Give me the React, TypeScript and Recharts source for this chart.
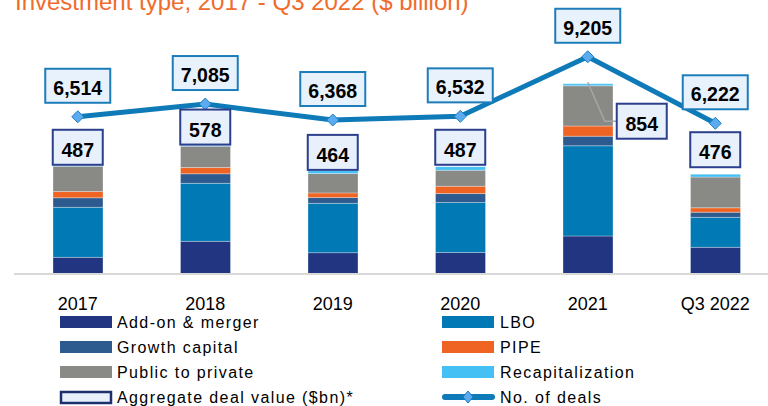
import React from 'react';
import { ComposedChart, Bar, Line, XAxis, YAxis, Legend } from 'recharts';

const categories = ['2017', '2018', '2019', '2020', '2021', 'Q3 2022'];
const addOnMerger = [75, 147, 96, 97, 171, 120];
const lbo = [225, 261, 222, 225, 406, 135];
const growthCapital = [43, 43, 26, 40, 43, 23];
const pipe = [28, 28, 21, 33, 46, 20];
const publicToPrivate = [114, 96, 87, 72, 181, 138];
const recapitalization = [2, 3, 13, 16, 9, 13];
const aggregateDealValue = [487, 578, 464, 487, 854, 476];
const numberOfDeals = [6514, 7085, 6368, 6532, 9205, 6222];

const titleText = 'Investment type, 2017 - Q3 2022 ($ billion)';
const legendLabels = [
  'Add-on & merger',
  'LBO',
  'Growth capital',
  'PIPE',
  'Public to private',
  'Recapitalization',
  'Aggregate deal value ($bn)*',
  'No. of deals',
];

const COLORS = {
  addOn: '#213581',
  lbo: '#0079b4',
  growth: '#2d5b8f',
  pipe: '#f06423',
  p2p: '#898a86',
  recap: '#45c0f5',
  line: '#0e7ab8',
  diamond: '#5aabf0',
  dealBoxBorder: '#1c7db9',
  dealBoxFill: '#e8f2fd',
  barBoxBorder: '#2b3f8d',
  barBoxFill: '#e8f0fc',
};

const FONT = '"Liberation Sans", Arial, sans-serif';

const data = categories.map((name, i) => ({
  name,
  addOn: addOnMerger[i],
  lbo: lbo[i],
  growth: growthCapital[i],
  pipe: pipe[i],
  p2p: publicToPrivate[i],
  recap: recapitalization[i],
  total: aggregateDealValue[i],
  deals: numberOfDeals[i],
}));

const fmt = (v: number) => Number(v).toLocaleString('en-US');

const DealsLabel = (props: any) => {
  const { x, y, value } = props;
  if (x == null || y == null) return null;
  const w = 65;
  const h = 34;
  const bottom = y - 14;
  return (
    <g>
      <rect x={x - w / 2} y={bottom - h} width={w} height={h} fill={COLORS.dealBoxFill} stroke={COLORS.dealBoxBorder} strokeWidth={2} />
      <text x={x} y={bottom - 8} textAnchor="middle" fontFamily={FONT} fontWeight="bold" fontSize={19.5} fill="#000">
        {fmt(value)}
      </text>
    </g>
  );
};

const TotalLabel = (props: any) => {
  const { x, y, value, index } = props;
  if (x == null || y == null) return null;
  const w = 50;
  const h = 35;
  if (index === 4) {
    const bx = x + 29;
    const by = y + 37;
    return (
      <g>
        <polyline points={`${x},${y - 2} ${x + 17},${by} ${bx},${by}`} fill="none" stroke="#a6a6a6" strokeWidth={1.5} />
        <rect x={bx} y={by - h / 2} width={w} height={h} fill={COLORS.barBoxFill} stroke={COLORS.barBoxBorder} strokeWidth={2} />
        <text x={bx + w / 2} y={by + h / 2 - 8} textAnchor="middle" fontFamily={FONT} fontWeight="bold" fontSize={19.5} fill="#000">
          {fmt(value)}
        </text>
      </g>
    );
  }
  const bottom = y - 1;
  return (
    <g>
      <rect x={x - w / 2} y={bottom - h} width={w} height={h} fill={COLORS.barBoxFill} stroke={COLORS.barBoxBorder} strokeWidth={2} />
      <text x={x} y={bottom - 8} textAnchor="middle" fontFamily={FONT} fontWeight="bold" fontSize={19.5} fill="#000">
        {fmt(value)}
      </text>
    </g>
  );
};

const Diamond = (props: any) => {
  const { cx, cy, index } = props;
  if (cx == null || cy == null) return <g key={`dm${index}`} />;
  const r = 6;
  return (
    <polygon
      key={`dm${index}`}
      points={`${cx},${cy - r} ${cx + r},${cy} ${cx},${cy + r} ${cx - r},${cy}`}
      fill={COLORS.diamond}
      stroke="#1f7fc0"
      strokeWidth={1}
    />
  );
};

const Tick = (props: any) => {
  const { x, y, payload } = props;
  return (
    <text x={x} y={y + 36} textAnchor="middle" fontFamily={FONT} fontSize={18} fill="#000">
      {payload.value}
    </text>
  );
};

const LegendContent = () => {
  const colX = [60, 442];
  const textX = [117, 500];
  const rowY = [322, 347, 372, 397];
  const swatchColors = [COLORS.addOn, COLORS.lbo, COLORS.growth, COLORS.pipe, COLORS.p2p, COLORS.recap];
  const top = 300;
  return (
    <svg width={768} height={106} style={{ display: 'block' }}>
      {legendLabels.map((label, i) => {
        const col = i % 2;
        const row = Math.floor(i / 2);
        const cy = rowY[row] - top;
        let swatch: any;
        if (i < 6) {
          swatch = <rect x={colX[col]} y={cy - 6} width={52} height={12} fill={swatchColors[i]} />;
        } else if (i === 6) {
          swatch = <rect x={colX[col] + 1} y={cy - 5} width={50} height={11} fill={COLORS.barBoxFill} stroke="#1e2f6e" strokeWidth={2.5} />;
        } else {
          const mx = colX[col] + 26;
          swatch = (
            <g>
              <line x1={colX[col] + 3} y1={cy} x2={colX[col] + 50} y2={cy} stroke={COLORS.line} strokeWidth={6} strokeLinecap="round" />
              <polygon points={`${mx},${cy - 6} ${mx + 5},${cy} ${mx},${cy + 6} ${mx - 5},${cy}`} fill={COLORS.diamond} stroke="#1f7fc0" strokeWidth={1} />
            </g>
          );
        }
        return (
          <g key={label}>
            {swatch}
            <text x={textX[col]} y={cy + 6} fontFamily={FONT} fontSize={16} letterSpacing={1.4} fill="#000">
              {label}
            </text>
          </g>
        );
      })}
    </svg>
  );
};

export default function App() {
  return (
    <div style={{ position: 'absolute', left: 0, top: 0, width: 768, height: 406, overflow: 'hidden', background: '#fff' }}>
      <div
        style={{
          position: 'absolute',
          left: 15,
          top: -10,
          fontFamily: FONT,
          fontSize: 24,
          lineHeight: '24px',
          color: '#ef6c2c',
          whiteSpace: 'nowrap',
        }}
      >
        {titleText}
      </div>
      <ComposedChart width={790} height={406} data={data} margin={{ top: 20, right: 11, bottom: 102, left: 14 }} barSize={50}>
        <XAxis
          dataKey="name"
          axisLine={{ stroke: '#d9d9d9', strokeWidth: 2 }}
          tickLine={false}
          tickSize={0}
          tickMargin={0}
          tick={<Tick />}
          height={30}
          interval={0}
        />
        <YAxis yAxisId="left" hide domain={[0, 1143]} />
        <YAxis yAxisId="right" orientation="right" hide domain={[-538, 10854]} />
        <Bar yAxisId="left" dataKey="addOn" stackId="a" fill={COLORS.addOn} stroke="#ffffff" strokeOpacity={0.3} strokeWidth={1} isAnimationActive={false} />
        <Bar yAxisId="left" dataKey="lbo" stackId="a" fill={COLORS.lbo} stroke="#ffffff" strokeOpacity={0.3} strokeWidth={1} isAnimationActive={false} />
        <Bar yAxisId="left" dataKey="growth" stackId="a" fill={COLORS.growth} stroke="#ffffff" strokeOpacity={0.3} strokeWidth={1} isAnimationActive={false} />
        <Bar yAxisId="left" dataKey="pipe" stackId="a" fill={COLORS.pipe} stroke="#ffffff" strokeOpacity={0.3} strokeWidth={1} isAnimationActive={false} />
        <Bar yAxisId="left" dataKey="p2p" stackId="a" fill={COLORS.p2p} stroke="#ffffff" strokeOpacity={0.3} strokeWidth={1} isAnimationActive={false} />
        <Bar yAxisId="left" dataKey="recap" stackId="a" fill={COLORS.recap} stroke="#ffffff" strokeOpacity={0.3} strokeWidth={1} isAnimationActive={false} />
        <Line
          yAxisId="left"
          dataKey="total"
          stroke="none"
          dot={false}
          activeDot={false}
          legendType="none"
          isAnimationActive={false}
          label={<TotalLabel />}
        />
        <Line
          yAxisId="right"
          dataKey="deals"
          stroke={COLORS.line}
          strokeWidth={5}
          dot={<Diamond />}
          activeDot={false}
          isAnimationActive={false}
          label={<DealsLabel />}
        />
        <Legend
          layout="horizontal"
          verticalAlign="middle"
          align="center"
          content={<LegendContent />}
          wrapperStyle={{ position: 'absolute', left: 0, top: 300, width: 768, height: 106 }}
        />
      </ComposedChart>
    </div>
  );
}
